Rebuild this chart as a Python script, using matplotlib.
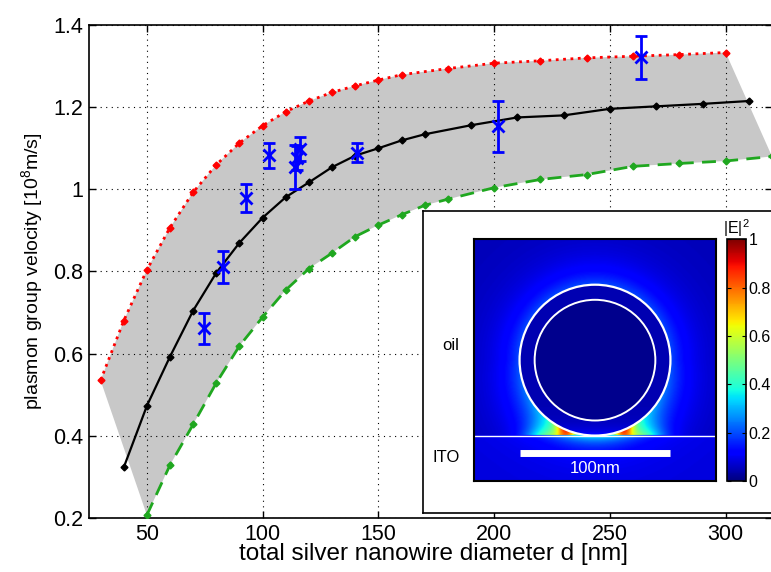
import numpy as np
import matplotlib
matplotlib.use("Agg")
import matplotlib.pyplot as plt
from matplotlib.patches import Circle

plt.rcParams['font.family'] = ['Liberation Sans', 'DejaVu Sans']
plt.rcParams['mathtext.default'] = 'regular'

# upper bound (oil), red dotted
d_up = [30, 40, 50, 60, 70, 80, 90, 100, 110, 120, 130, 140, 150, 160,
        180, 200, 220, 240, 260, 280, 300]
v_up = [0.535, 0.680, 0.804, 0.907, 0.993, 1.060, 1.113, 1.155, 1.189, 1.215,
        1.236, 1.252, 1.266, 1.279, 1.294, 1.307, 1.313, 1.320, 1.324, 1.328, 1.333]

# middle curve, black
d_mid = [40, 50, 60, 70, 80, 90, 100, 110, 120, 130, 140, 150, 160, 170,
         190, 210, 230, 250, 270, 290, 310]
v_mid = [0.323, 0.473, 0.593, 0.705, 0.797, 0.870, 0.931, 0.981, 1.017, 1.054,
         1.082, 1.100, 1.119, 1.134, 1.156, 1.175, 1.180, 1.196, 1.202, 1.208, 1.215]

# lower bound (ITO), green dashed
d_low = [50, 60, 70, 80, 90, 100, 110, 120, 130, 140, 150, 160, 170, 180,
         200, 220, 240, 260, 280, 300, 320]
v_low = [0.207, 0.329, 0.428, 0.529, 0.619, 0.689, 0.755, 0.807, 0.845, 0.885,
         0.913, 0.938, 0.961, 0.976, 1.004, 1.024, 1.036, 1.056, 1.063, 1.069, 1.080]

# measured wires
d_meas = [74.8, 82.7, 93.0, 102.6, 114.0, 115.0, 116.0, 140.6, 201.8, 263.3]
v_meas = [0.662, 0.811, 0.980, 1.083, 1.054, 1.076, 1.098, 1.089, 1.154, 1.321]
v_err = [0.038, 0.040, 0.034, 0.030, 0.053, 0.030, 0.030, 0.023, 0.062, 0.052]

fig = plt.figure(figsize=(7.71, 5.72), dpi=100)
ax = fig.add_axes([89/771, 54/572, 683/771, 493/572])

# shaded band between the two bounds
band_x = d_up + d_low[::-1]
band_y = v_up + v_low[::-1]
ax.fill(band_x, band_y, color='#c8c8c8', lw=0, zorder=1)

ax.plot(d_up, v_up, ':', color='#ff0000', lw=2, marker='D', ms=3.5, zorder=3)
ax.plot(d_low, v_low, '--', color='#1fa71f', lw=2, dashes=(5, 3), marker='D', ms=3.5, zorder=3)
ax.plot(d_mid, v_mid, '-', color='k', lw=1.6, marker='D', ms=3.5, zorder=3)
ax.errorbar(d_meas, v_meas, yerr=v_err, fmt='x', color='#0000ff', ms=8, mew=2,
            elinewidth=2, capsize=4, capthick=2, zorder=4)

ax.set_xlim(25, 320)
ax.set_ylim(0.2, 1.4)
ax.set_xticks([50, 100, 150, 200, 250, 300])
ax.set_yticks([0.2, 0.4, 0.6, 0.8, 1.0, 1.2, 1.4])
ax.set_yticklabels(['0.2', '0.4', '0.6', '0.8', '1', '1.2', '1.4'])
ax.tick_params(direction='in', top=True, right=True, labelsize=15.5, length=5, width=1, pad=4)
ax.grid(True, linestyle=(0, (1, 4)), color='k', lw=0.8)
ax.set_axisbelow(False)
for s in ax.spines.values():
    s.set_linewidth(1.2)
ax.set_xlabel('total silver nanowire diameter d [nm]', fontsize=17.5, va='top')
ax.xaxis.set_label_coords(0.505, -0.05)
ax.set_ylabel('plasmon group velocity [10$^{8}$m/s]', fontsize=14, labelpad=6)

# inset frame
frame = fig.add_axes([423/771, 59/572, 350/771, 302/572])
frame.set_xticks([])
frame.set_yticks([])
frame.set_facecolor('white')
for s in frame.spines.values():
    s.set_linewidth(1.2)
frame.text(19/350, 1 - 135/302, 'oil', fontsize=12, va='center', transform=frame.transAxes)
frame.text(9/350, 1 - 247/302, 'ITO', fontsize=12, va='center', transform=frame.transAxes)

# field map of the wire cross-section, coordinates in nm
n = 321
xs = np.linspace(-80, 80, n)
X, Y = np.meshgrid(xs, xs)
R = np.hypot(X, Y)
E = np.zeros_like(X)
oil = (Y > -50) & (R >= 50)
ito = Y <= -50
core = R < 40
shell = (R >= 40) & (R < 50)
lower = np.clip(-Y / 50.0, 0, 1)
glow = 0.05 + (0.15 + 0.10 * lower) * np.exp(-(R - 50) / 14.0)
gap = 0.95 * np.exp(-((np.abs(X) - 21) / 7.0) ** 2) * np.exp(-(R - 50) / 4.0) * np.exp(-(Y + 50) / 6.0)
wing = 0.32 * np.exp(-((np.abs(X) - 30) / 15.0) ** 2) * np.exp(-np.clip(Y + 50, 0, None) / 9.0)
E[oil] = (glow + gap + wing)[oil]
sub = 0.08 + 0.25 * np.exp(-(X / 28.0) ** 2) * np.exp((Y + 50) / 5.0) \
    + 0.05 * np.exp(-(X / 60.0) ** 2) * np.exp((Y + 50) / 20.0)
E[ito] = sub[ito]
E[shell] = (0.045 + 0.08 * np.exp(-(Y[shell] + 50) / 5.0))
E[core] = 0.012
E = np.clip(E, 0, 1)

im_ax = fig.add_axes([474.3/771, 91/572, 241.4/771, 241.7/572])
im = im_ax.imshow(E, cmap='jet', vmin=0, vmax=1, origin='lower',
                  extent=[-80, 80, -80, 80], interpolation='bilinear')
im_ax.add_patch(Circle((0, 0), 50, fill=False, ec='white', lw=1.6))
im_ax.add_patch(Circle((0, 0), 40, fill=False, ec='white', lw=1.4))
im_ax.axhline(-50, color='white', lw=1)
im_ax.plot([-50, 50], [-61.5, -61.5], color='white', lw=5, solid_capstyle='butt')
im_ax.text(0, -72, '100nm', color='white', fontsize=12, ha='center', va='center')
im_ax.set_xticks([])
im_ax.set_yticks([])
for s in im_ax.spines.values():
    s.set_linewidth(1.5)

cax = fig.add_axes([727.3/771, 91/572, 18.4/771, 241.7/572])
cb = fig.colorbar(im, cax=cax, ticks=[0, 0.2, 0.4, 0.6, 0.8, 1])
cb.ax.set_yticklabels(['0', '0.2', '0.4', '0.6', '0.8', '1'])
cb.ax.tick_params(labelsize=11.5, direction='in', length=3, left=True, right=True, pad=2)
cb.outline.set_linewidth(1.2)
cax.set_title('|E|$^{2}$', fontsize=11.5, pad=2)

fig.savefig('out.png', dpi=100)
